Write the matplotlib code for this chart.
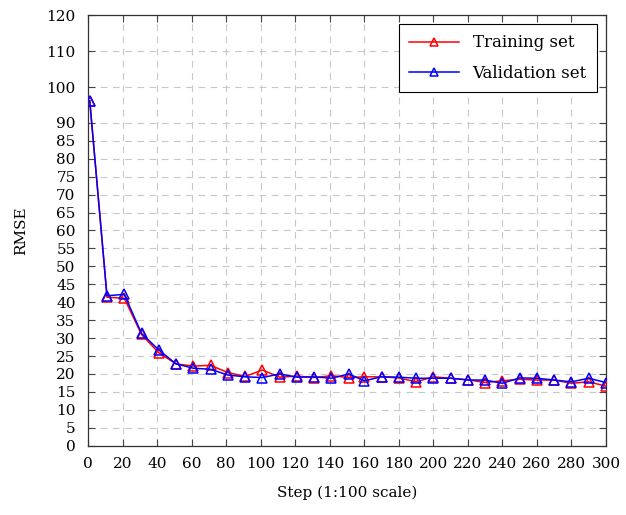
import matplotlib
matplotlib.use("Agg")
import matplotlib.pyplot as plt

# step positions (1:100 scale)
steps = [1, 11, 21, 31, 41, 51, 61, 71, 81, 91, 101, 111, 121, 131, 141, 151,
         160, 170, 180, 190, 200, 210, 220, 230, 240, 250, 260, 270, 280, 290, 300]

train_rmse = [96.2, 41.4, 41.1, 31.0, 25.9, 22.8, 22.2, 22.4, 20.4, 19.3, 21.1,
              19.1, 19.4, 19.0, 19.5, 19.0, 19.2, 19.2, 18.9, 17.8, 19.2, 18.8,
              18.4, 17.6, 18.1, 18.5, 18.3, 18.3, 17.4, 17.8, 16.6]
valid_rmse = [96.2, 41.8, 42.2, 31.3, 26.7, 22.8, 21.6, 21.3, 19.7, 19.2, 19.0,
              20.0, 19.1, 19.2, 18.8, 20.0, 18.1, 19.2, 19.1, 18.8, 18.8, 18.8,
              18.3, 18.3, 17.4, 18.9, 18.8, 18.3, 17.8, 18.8, 17.6]

x_ticks = list(range(0, 301, 20))
y_ticks = list(range(0, 91, 5)) + [100, 110, 120]

plt.rcParams['font.family'] = ['DejaVu Serif']
plt.rcParams['font.size'] = 11

fig = plt.figure(figsize=(6.26, 5.15), dpi=100)
ax = fig.add_axes([0.1406, 0.1346, 0.968 - 0.1406, 0.9703 - 0.1346])

ax.plot(steps, train_rmse, color='red', lw=1.1, marker='^', ms=7,
        mfc='none', mew=1.1, label='Training set', zorder=3)
ax.plot(steps, valid_rmse, color='blue', lw=1.1, marker='^', ms=7,
        mfc='none', mew=1.1, label='Validation set', zorder=4)

ax.set_xlim(0, 300)
ax.set_ylim(0, 120)
ax.set_xticks(x_ticks)
ax.set_yticks(y_ticks)
ax.grid(True, color='#c8c8c8', linestyle=(0, (6, 5)), linewidth=0.8)
ax.set_axisbelow(True)
ax.tick_params(direction='in', length=5, width=0.8, color='#444444',
               top=True, right=True)
ax.tick_params(axis='x', pad=8)
ax.tick_params(axis='y', pad=9)
for s in ax.spines.values():
    s.set_color('#333333')
    s.set_linewidth(0.9)

ax.set_xlabel('Step (1:100 scale)', labelpad=11)
ax.set_ylabel('RMSE', labelpad=13)

leg = ax.legend(loc='upper right', fancybox=False, framealpha=1,
                edgecolor='black', borderaxespad=0.55, handlelength=3.0,
                handletextpad=0.8, fontsize=12, labelspacing=0.8,
                borderpad=0.6, markerscale=0.75)
leg.get_frame().set_linewidth(0.8)

fig.savefig('out.png', dpi=100)
